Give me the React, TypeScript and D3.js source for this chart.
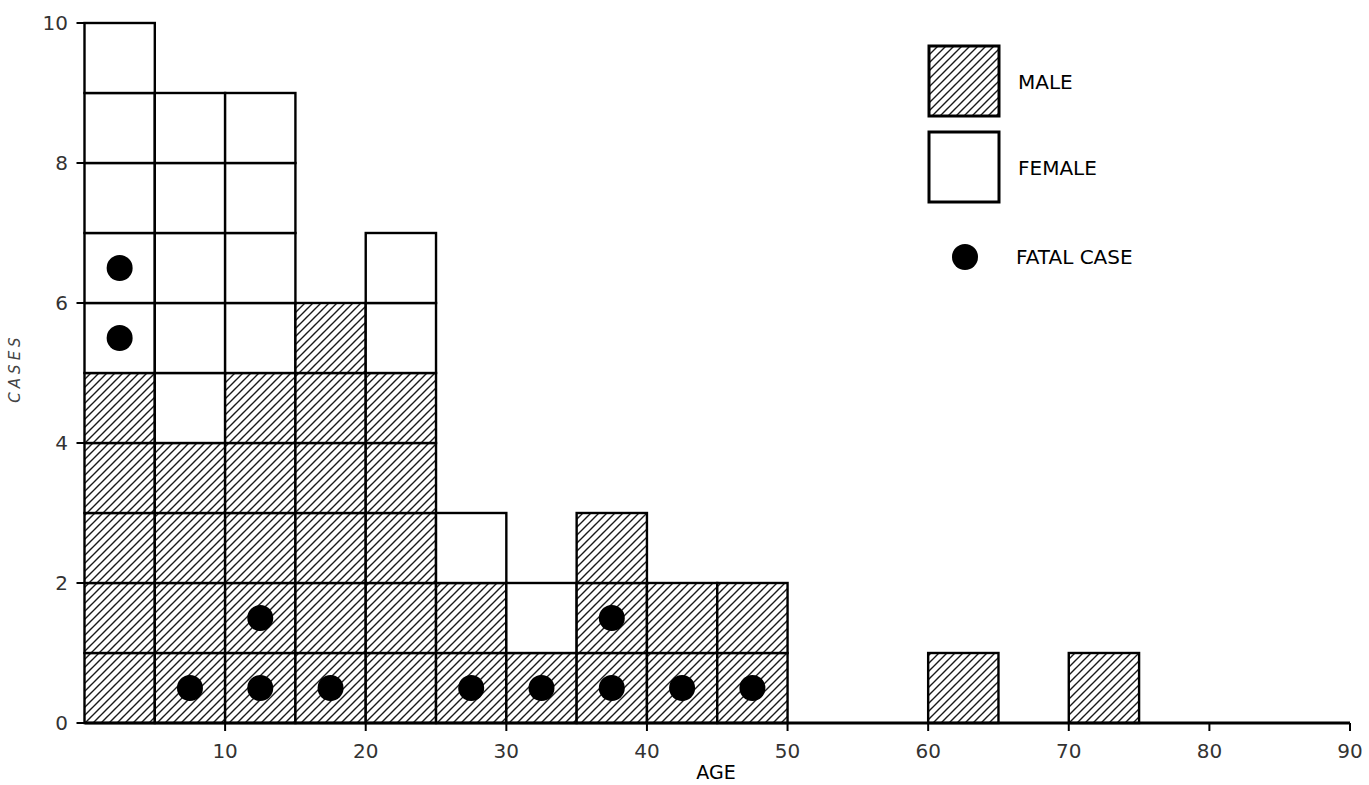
import React from "react";
import * as d3 from "d3";

const binStarts = [0, 5, 10, 15, 20, 25, 30, 35, 40, 45, 60, 70];
const maleCases = [5, 4, 5, 6, 5, 2, 1, 3, 2, 2, 1, 1];
const femaleCases = [5, 5, 4, 0, 2, 1, 1, 0, 0, 0, 0, 0];
const fatalBin = [0, 0, 5, 10, 10, 15, 25, 30, 35, 35, 40, 45];
const fatalCell = [5, 6, 0, 0, 1, 0, 0, 0, 0, 1, 0, 0];
const xTicks = [10, 20, 30, 40, 50, 60, 70, 80, 90];
const yTicks = [0, 2, 4, 6, 8, 10];
const binWidth = 5;

const W = 1369;
const H = 785;
const FONT = "'DejaVu Sans', 'Liberation Sans', sans-serif";

export default function App() {
  const x = d3.scaleLinear().domain([0, 90]).range([84.5, 1350]);
  const y = d3.scaleLinear().domain([0, 10]).range([723, 23]);

  const cells: { x0: number; x1: number; y0: number; y1: number; male: boolean }[] = [];
  binStarts.forEach((b, i) => {
    const total = maleCases[i] + femaleCases[i];
    for (let k = 0; k < total; k++) {
      cells.push({ x0: x(b), x1: x(b + binWidth), y0: y(k + 1), y1: y(k), male: k < maleCases[i] });
    }
  });

  return (
    <svg width={W} height={H} style={{ position: "absolute", left: 0, top: 0, background: "#fff" }}>
      <defs>
        <pattern id="hatch" patternUnits="userSpaceOnUse" width={8} height={8}>
          <rect width={8} height={8} fill="#fff" />
          <path d="M-1,1 l2,-2 M0,8 l8,-8 M7,9 l2,-2" stroke="#1a1a1a" strokeWidth={1.4} />
        </pattern>
      </defs>
      {cells.map((c, i) => (
        <rect key={i} x={c.x0} y={c.y0} width={c.x1 - c.x0} height={c.y1 - c.y0}
          fill={c.male ? "url(#hatch)" : "#fff"} stroke="#000" strokeWidth={2.4} />
      ))}
      {fatalBin.map((b, i) => (
        <circle key={i} cx={x(b + binWidth / 2)} cy={y(fatalCell[i] + 0.5)} r={13} fill="#000" />
      ))}
      <line x1={x(0)} x2={x(90)} y1={y(0)} y2={y(0)} stroke="#000" strokeWidth={3} />
      {xTicks.map((t) => (
        <g key={t}>
          <line x1={x(t)} x2={x(t)} y1={y(0)} y2={y(0) + 8} stroke="#000" strokeWidth={2} />
          <text x={x(t)} y={758} textAnchor="middle" fontFamily={FONT} fontSize={20} fill="#333">{t}</text>
        </g>
      ))}
      {yTicks.map((t) => (
        <g key={t}>
          <line x1={x(0) - 8} x2={x(0)} y1={y(t)} y2={y(t)} stroke="#000" strokeWidth={2} />
          <text x={68} y={y(t) + 7} textAnchor="end" fontFamily={FONT} fontSize={20} fill="#333">{t}</text>
        </g>
      ))}
      <text x={716} y={779} textAnchor="middle" fontFamily={FONT} fontSize={19} fill="#000">AGE</text>
      <text transform="translate(20,368) rotate(-90)" textAnchor="middle" fontFamily={FONT}
        fontSize={15} fontStyle="italic" letterSpacing={4} fill="#444">CASES</text>

      <rect x={929} y={46} width={70} height={70} fill="url(#hatch)" stroke="#000" strokeWidth={3} />
      <text x={1018} y={89} fontFamily={FONT} fontSize={20} fill="#000">MALE</text>
      <rect x={929} y={132} width={70} height={70} fill="#fff" stroke="#000" strokeWidth={3} />
      <text x={1018} y={175} fontFamily={FONT} fontSize={20} fill="#000">FEMALE</text>
      <circle cx={965} cy={257} r={13} fill="#000" />
      <text x={1016} y={264} fontFamily={FONT} fontSize={20} fill="#000">FATAL CASE</text>
    </svg>
  );
}
